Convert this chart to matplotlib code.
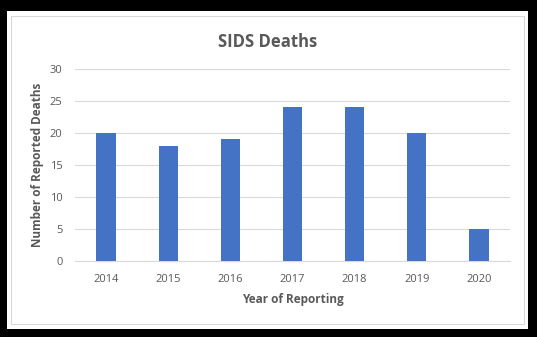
import matplotlib.pyplot as plt
from matplotlib.patches import Rectangle

years = ['2014', '2015', '2016', '2017', '2018', '2019', '2020']
deaths = [20, 18, 19, 24, 24, 20, 5]

plt.rcParams['font.family'] = ['Open Sans', 'DejaVu Sans']
grey = '#595959'

fig = plt.figure(figsize=(5.37, 3.37), dpi=100)
fig.patch.set_facecolor('black')

# white card with a thin grey frame
W, H = 537, 337
fig.patches.append(Rectangle((7 / W, 1 - 329 / H), 521 / W, 318 / H,
                             transform=fig.transFigure, facecolor='white',
                             edgecolor='none', zorder=-2))
fig.patches.append(Rectangle((11 / W, 1 - 324 / H), 513 / W, 308 / H,
                             transform=fig.transFigure, facecolor='white',
                             edgecolor='#d9d9d9', lw=0.8, zorder=-1))

ax = fig.add_axes([75 / W, 1 - 261 / H, 435 / W, 192 / H])
ax.set_zorder(2)
ax.set_facecolor('none')
x = range(len(years))
ax.bar(x, deaths, width=0.31, color='#4472c4', zorder=3)

ax.set_xlim(-0.5, len(years) - 0.5)
ax.set_ylim(0, 30)
ax.set_yticks(range(0, 31, 5))
ax.set_xticks(list(x))
ax.set_xticklabels(years)
ax.grid(axis='y', color='#d9d9d9', lw=0.8, zorder=0)
for side in ['top', 'right', 'left']:
    ax.spines[side].set_visible(False)
ax.spines['bottom'].set_color('#d9d9d9')
ax.tick_params(length=0, colors=grey, labelsize=8)
ax.tick_params(axis='x', pad=9)
ax.tick_params(axis='y', pad=9)

ax.set_xlabel('Year of Reporting', color=grey, fontsize=8.5,
              fontweight='bold', labelpad=6)
ax.set_ylabel('Number of Reported Deaths', color=grey, fontsize=8.5,
              fontweight='bold', labelpad=4)
fig.text(268 / W, 1 - 42 / H, 'SIDS Deaths', color=grey, fontsize=12,
         fontweight='bold', ha='center', va='center', zorder=3)

fig.savefig('out.png', dpi=100, facecolor=fig.get_facecolor())
